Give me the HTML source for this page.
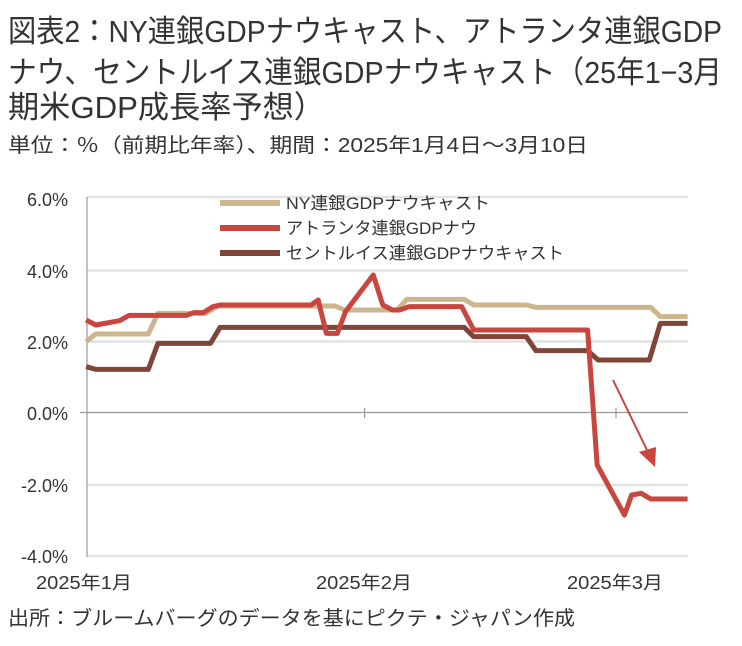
<!DOCTYPE html>
<html><head><meta charset="utf-8"><style>
body{margin:0;background:#fff;}
svg{display:block;}
text{font-family:"Liberation Sans","Noto Sans CJK JP",sans-serif;fill:#333;}
</style></head><body>
<svg width="742" height="646" viewBox="0 0 742 646">
<text x="8" y="42" font-size="31" textLength="714" lengthAdjust="spacingAndGlyphs">図表2：NY連銀GDPナウキャスト、アトランタ連銀GDP</text>
<text x="8" y="83" font-size="31" textLength="714" lengthAdjust="spacingAndGlyphs">ナウ、セントルイス連銀GDPナウキャスト（25年1−3月</text>
<text x="8" y="118" font-size="31" textLength="317" lengthAdjust="spacingAndGlyphs">期米GDP成長率予想）</text>
<text x="8" y="152" font-size="20" textLength="580" lengthAdjust="spacingAndGlyphs">単位：％（前期比年率）、期間：2025年1月4日～3月10日</text>
<text x="8" y="625" font-size="20" textLength="567" lengthAdjust="spacingAndGlyphs">出所：ブルームバーグのデータを基にピクテ・ジャパン作成</text>
<g stroke="#e3e3e3" stroke-width="2.5">
<line x1="87" x2="688" y1="197" y2="197"/><line x1="87" x2="688" y1="270.5" y2="270.5"/><line x1="87" x2="688" y1="341.5" y2="341.5"/><line x1="87" x2="688" y1="485" y2="485"/><line x1="87" x2="688" y1="556" y2="556"/>
</g>
<line x1="87" x2="87" y1="197" y2="557" stroke="#999" stroke-width="1.2"/>
<line x1="80" x2="688" y1="412.5" y2="412.5" stroke="#999" stroke-width="1.2"/>
<line x1="364.6" x2="364.6" y1="408" y2="418" stroke="#999" stroke-width="1.2"/>
<line x1="616" x2="616" y1="408" y2="418" stroke="#999" stroke-width="1.2"/>
<g font-size="18" text-anchor="end">
<text x="68" y="206">6.0%</text><text x="68" y="278">4.0%</text><text x="68" y="349">2.0%</text><text x="68" y="420">0.0%</text><text x="68" y="492">-2.0%</text><text x="68" y="563">-4.0%</text>
</g>
<g font-size="18">
<text x="36" y="589" textLength="96" lengthAdjust="spacingAndGlyphs">2025年1月</text>
<text x="316" y="589" textLength="96" lengthAdjust="spacingAndGlyphs">2025年2月</text>
<text x="567" y="589" textLength="96" lengthAdjust="spacingAndGlyphs">2025年3月</text>
</g>
<g transform="translate(0,180) scale(0.4785,0.33333)" fill="none" stroke-linejoin="round">
<polyline vector-effect="non-scaling-stroke" stroke="#CDB68E" stroke-width="5" points="180,485 200,462 310,462 330,400 430,400 455,378 700,378 720,390 830,390 850,358 970,358 990,375 1100,375 1120,382 1360,382 1380,410 1437,410"/>
<polyline vector-effect="non-scaling-stroke" stroke="#7F4538" stroke-width="5" points="180,560 200,568 310,568 330,490 440,490 460,442 970,442 990,470 1100,470 1120,512 1228,512 1250,540 1357,540 1380,430 1437,430"/>
<polyline vector-effect="non-scaling-stroke" stroke="#C8463E" stroke-width="5" points="180,420 200,435 250,422 270,406 390,406 405,398 425,398 445,380 460,375 650,375 665,360 682,460 705,460 722,395 780,285 800,375 820,390 835,390 855,380 965,380 990,450 1228,450 1248,855 1305,1005 1320,945 1340,940 1360,957 1437,957"/>
</g>
<line x1="613" y1="380" x2="647" y2="450" stroke="#C8463E" stroke-width="2"/>
<polygon points="655,467 639,452 656,447" fill="#C8463E"/>
<g stroke-width="6">
<line x1="220" x2="280" y1="203" y2="203" stroke="#CDB68E"/>
<line x1="220" x2="280" y1="228" y2="228" stroke="#C8463E"/>
<line x1="220" x2="280" y1="253" y2="253" stroke="#7F4538"/>
</g>
<g font-size="17">
<text x="286" y="209" textLength="204" lengthAdjust="spacingAndGlyphs">NY連銀GDPナウキャスト</text>
<text x="286" y="234" textLength="191" lengthAdjust="spacingAndGlyphs">アトランタ連銀GDPナウ</text>
<text x="286" y="259" textLength="278" lengthAdjust="spacingAndGlyphs">セントルイス連銀GDPナウキャスト</text>
</g>
</svg>
</body></html>
